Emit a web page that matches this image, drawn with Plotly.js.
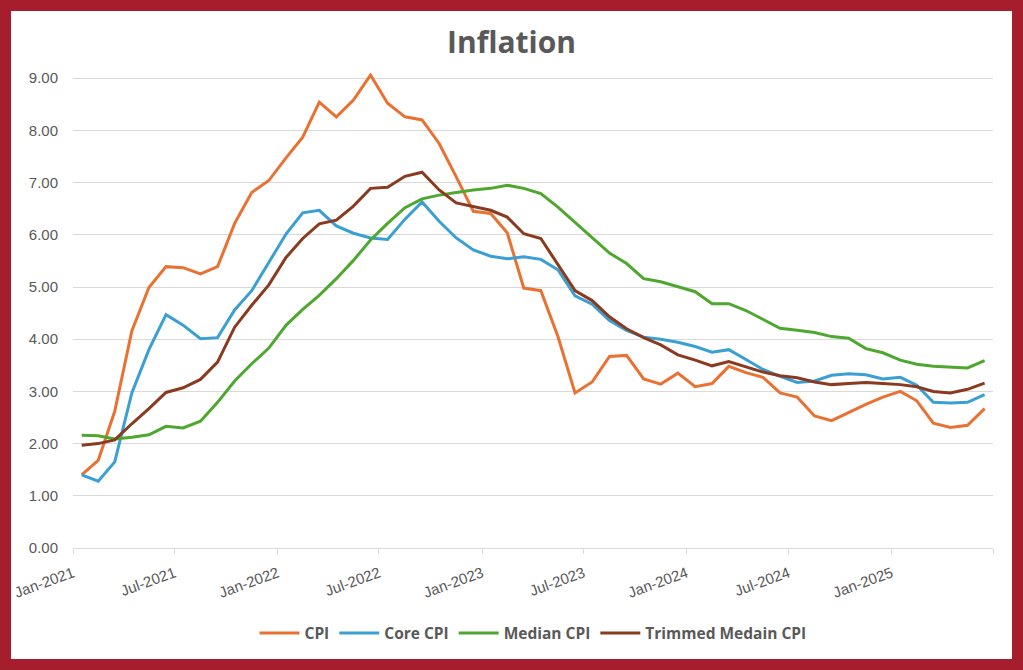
<!DOCTYPE html>
<html>
<head>
<meta charset="utf-8">
<script src="https://cdn.plot.ly/plotly-3.0.1.min.js"></script>
<style>
  html, body { margin: 0; padding: 0; background: #ffffff; }
  #wrap { position: relative; width: 1023px; height: 670px; }
  #chart { position: absolute; left: 0; top: 0; width: 1023px; height: 670px; }
  #frame { position: absolute; left: 0; top: 0; width: 1023px; height: 670px; box-sizing: border-box; border: 11px solid #A61D2E; pointer-events: none; }
</style>
</head>
<body>
<div id="wrap">
  <div id="chart"></div>
  <div id="frame"></div>
</div>
<script>
const months = [
  '2021-01','2021-02','2021-03','2021-04','2021-05','2021-06','2021-07','2021-08','2021-09','2021-10','2021-11','2021-12',
  '2022-01','2022-02','2022-03','2022-04','2022-05','2022-06','2022-07','2022-08','2022-09','2022-10','2022-11','2022-12',
  '2023-01','2023-02','2023-03','2023-04','2023-05','2023-06','2023-07','2023-08','2023-09','2023-10','2023-11','2023-12',
  '2024-01','2024-02','2024-03','2024-04','2024-05','2024-06','2024-07','2024-08','2024-09','2024-10','2024-11','2024-12',
  '2025-01','2025-02','2025-03','2025-04','2025-05','2025-06'
];

const cpi = [
  1.40,1.68,2.62,4.16,4.99,5.39,5.37,5.25,5.39,6.22,6.81,7.04,
  7.48,7.87,8.54,8.26,8.58,9.06,8.52,8.26,8.20,7.75,7.11,6.45,
  6.41,6.04,4.98,4.93,4.05,2.97,3.18,3.67,3.69,3.24,3.14,3.35,
  3.09,3.15,3.48,3.36,3.27,2.97,2.89,2.53,2.44,2.60,2.75,2.89,
  3.00,2.82,2.39,2.31,2.35,2.67
];

const coreCpi = [
  1.40,1.28,1.65,2.97,3.80,4.47,4.27,4.01,4.03,4.56,4.93,5.46,
  6.02,6.42,6.47,6.17,6.03,5.94,5.91,6.30,6.63,6.26,5.94,5.71,
  5.59,5.54,5.58,5.53,5.33,4.83,4.67,4.36,4.17,4.04,4.00,3.94,
  3.86,3.75,3.80,3.61,3.42,3.29,3.17,3.20,3.31,3.34,3.32,3.24,
  3.27,3.12,2.79,2.78,2.79,2.94
];

const medianCpi = [
  2.16,2.15,2.09,2.12,2.17,2.33,2.30,2.43,2.79,3.20,3.53,3.83,
  4.27,4.57,4.84,5.16,5.51,5.90,6.22,6.52,6.69,6.76,6.81,6.86,
  6.89,6.95,6.89,6.79,6.53,6.24,5.95,5.65,5.45,5.16,5.10,5.00,
  4.91,4.68,4.68,4.55,4.38,4.21,4.17,4.13,4.05,4.02,3.82,3.74,
  3.60,3.52,3.48,3.46,3.45,3.59
];

const trimmedCpi = [
  1.97,2.00,2.07,2.38,2.67,2.98,3.07,3.23,3.56,4.23,4.65,5.04,
  5.57,5.93,6.21,6.28,6.55,6.89,6.91,7.12,7.20,6.86,6.61,6.54,
  6.47,6.34,6.02,5.93,5.42,4.93,4.74,4.43,4.20,4.03,3.89,3.70,
  3.60,3.49,3.57,3.47,3.37,3.30,3.26,3.18,3.13,3.15,3.17,3.15,
  3.13,3.09,3.00,2.97,3.04,3.16
];

const seriesNames = ['CPI', 'Core CPI', 'Median CPI', 'Trimmed Medain CPI'];
const seriesColors = ['#E97132', '#3A9FD3', '#4EA72E', '#8A3A1E'];

const xTickVals = ['2021-01-01','2021-07-01','2022-01-01','2022-07-01','2023-01-01','2023-07-01','2024-01-01','2024-07-01','2025-01-01','2025-07-01'];
const xTickText = ['Jan-2021','Jul-2021','Jan-2022','Jul-2022','Jan-2023','Jul-2023','Jan-2024','Jul-2024','Jan-2025',''];
const yTickVals = [0,1,2,3,4,5,6,7,8,9];

const allSeries = [cpi, coreCpi, medianCpi, trimmedCpi];
const traces = allSeries.map((ys, k) => ({
  type: 'scatter',
  mode: 'lines',
  name: seriesNames[k],
  x: months,
  y: ys,
  xperiod: 'M1',
  xperiodalignment: 'middle',
  line: { color: seriesColors[k], width: 3, shape: 'linear' },
  hoverinfo: 'x+y+name'
}));

const gray = '#595959';
const gridGray = '#D9D9D9';

const layout = {
  width: 1023,
  height: 670,
  paper_bgcolor: '#ffffff',
  plot_bgcolor: '#ffffff',
  margin: { l: 73, r: 30, t: 73, b: 122, pad: 0 },
  title: {
    text: 'Inflation',
    x: 0.5, xanchor: 'center',
    y: 1 - 42 / 670, yanchor: 'middle',
    font: { family: 'Open Sans, sans-serif', size: 30, color: gray, weight: 'bold' }
  },
  showlegend: true,
  legend: {
    orientation: 'h',
    x: 0.5, xanchor: 'center',
    y: -0.18, yanchor: 'middle',
    font: { family: 'Open Sans, sans-serif', size: 15.5, color: gray, weight: 'bold' },
    itemwidth: 40,
    traceorder: 'normal',
    bgcolor: 'rgba(0,0,0,0)'
  },
  xaxis: {
    type: 'date',
    range: ['2021-01-01', '2025-07-01'],
    tickmode: 'array',
    tickvals: xTickVals,
    ticktext: xTickText,
    tickangle: -20,
    ticks: 'outside',
    ticklen: 5,
    tickcolor: gridGray,
    tickwidth: 1,
    ticklabelstandoff: 5,
    showgrid: false,
    showline: true,
    linecolor: gridGray,
    linewidth: 1,
    zeroline: false,
    tickfont: { family: 'Liberation Sans, Arial, sans-serif', size: 15, color: gray },
    fixedrange: true
  },
  yaxis: {
    range: [0, 9.1],
    tickmode: 'array',
    tickvals: yTickVals,
    tickformat: '.2f',
    showgrid: true,
    gridcolor: gridGray,
    gridwidth: 1,
    zeroline: true,
    zerolinecolor: gridGray,
    zerolinewidth: 1,
    showline: false,
    ticks: '',
    ticklabelstandoff: 14,
    tickfont: { family: 'Liberation Sans, Arial, sans-serif', size: 15, color: gray },
    fixedrange: true
  },
  hovermode: 'closest'
};

Plotly.newPlot('chart', traces, layout, { displayModeBar: false, staticPlot: false, responsive: false });
</script>
</body>
</html>
